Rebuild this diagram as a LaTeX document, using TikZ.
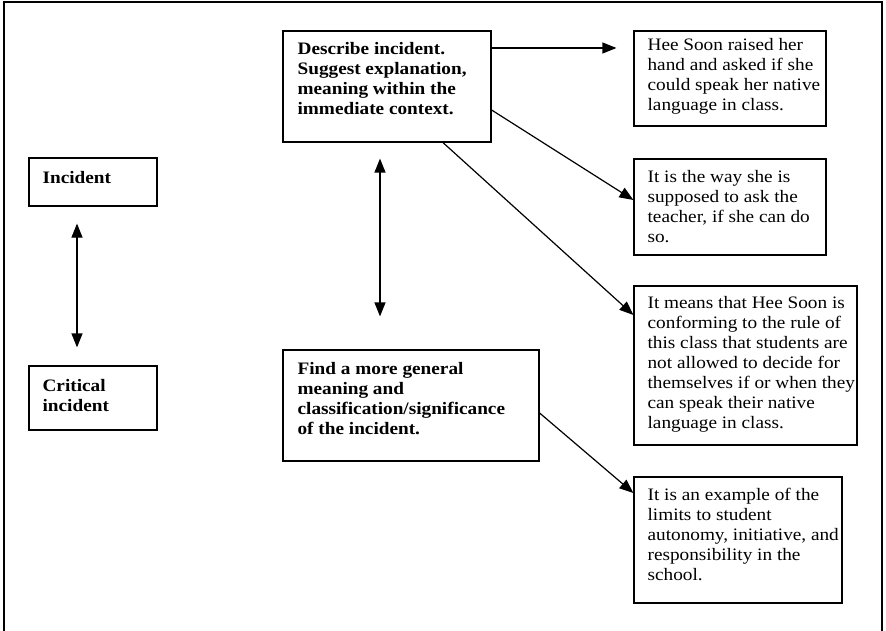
\documentclass[tikz,border=0pt]{standalone}
\usepackage{fontspec}
\setmainfont{Liberation Serif}[FakeStretch=1.1]
\usetikzlibrary{arrows.meta}
\newcommand\boxlines[1]{\begin{tabular}[t]{@{}l@{}}#1\end{tabular}}
\begin{document}
\begin{tikzpicture}[x=1pt,y=-1pt,
  box/.style={draw, line width=1.2pt, rectangle, inner sep=0pt},
  txt/.style={anchor=base west, inner sep=0pt, font=\fontsize{17.5pt}{20pt}\selectfont},
  btxt/.style={anchor=base west, inner sep=0pt, font=\fontsize{17.5pt}{20pt}\selectfont\bfseries},
  arr/.style={line width=1.2pt, -{Triangle[length=14pt,width=11pt]}},
  darr/.style={line width=1.2pt, {Triangle[length=14pt,width=11pt]}-{Triangle[length=14pt,width=11pt]}}]
\useasboundingbox (0,0) rectangle (886,631);
\fill[white] (0,0) rectangle (886,631);
\draw[line width=1.2pt] (4,640) -- (4,2) -- (882,2) -- (882,640);

% boxes
\node[box, minimum width=128pt, minimum height=48pt] (inc) at (93,182) {};
\node[box, minimum width=128pt, minimum height=64pt] (crit) at (93,398) {};
\node[box, minimum width=208pt, minimum height=111pt] (desc) at (387,86.5) {};
\node[box, minimum width=256pt, minimum height=111pt] (find) at (411,405.5) {};
\node[box, minimum width=192pt, minimum height=95pt] (hee) at (730,78.5) {};
\node[box, minimum width=192pt, minimum height=96pt] (way) at (730,207) {};
\node[box, minimum width=223pt, minimum height=159pt] (means) at (745.5,365.5) {};
\node[box, minimum width=208pt, minimum height=126pt] (last) at (738,540) {};

% texts
\node[btxt] (incT) at ([xshift=14pt,yshift=-26pt]inc.north west) {Incident};
\node[btxt] (critT) at ([xshift=14pt,yshift=-26pt]crit.north west) {\boxlines{Critical\\incident}};
\node[btxt] (descT) at ([xshift=15pt,yshift=-24pt]desc.north west) {\boxlines{Describe incident.\\Suggest explanation,\\meaning within the\\immediate context.}};
\node[btxt] (findT) at ([xshift=15pt,yshift=-25pt]find.north west) {\boxlines{Find a more general\\meaning and\\classification/significance\\of the incident.}};
\node[txt] (heeT) at ([xshift=14pt,yshift=-20pt]hee.north west) {\boxlines{Hee Soon raised her\\hand and asked if she\\could speak her native\\language in class.}};
\node[txt] (wayT) at ([xshift=14pt,yshift=-24pt]way.north west) {\boxlines{It is the way she is\\supposed to ask the\\teacher, if she can do\\so.}};
\node[txt] (meansT) at ([xshift=14pt,yshift=-23pt]means.north west) {\boxlines{It means that Hee Soon is\\conforming to the rule of\\this class that students are\\not allowed to decide for\\themselves if or when they\\can speak their native\\language in class.}};
\node[txt] (lastT) at ([xshift=14pt,yshift=-24pt]last.north west) {\boxlines{It is an example of the\\limits to student\\autonomy, initiative, and\\responsibility in the\\school.}};

% connectors
\draw[arr, shorten >=17pt] ([yshift=38.5pt]desc.east) -- ([yshift=30.5pt]hee.west);
\draw[arr] ([yshift=-23.5pt]desc.east) -- ([yshift=7pt]way.west);
\draw[arr] ([xshift=56pt]desc.south) -- ([yshift=50.5pt]means.west);
\draw[arr] ([yshift=-7.5pt]find.east) -- ([yshift=47pt]last.west);
\draw[darr, shorten <=17pt, shorten >=18pt] ([xshift=-16pt]inc.south) -- ([xshift=-16pt]crit.north);
\draw[darr, shorten <=16pt, shorten >=33pt] ([xshift=-7pt]desc.south) -- ([xshift=-31pt]find.north);
\end{tikzpicture}
\end{document}
